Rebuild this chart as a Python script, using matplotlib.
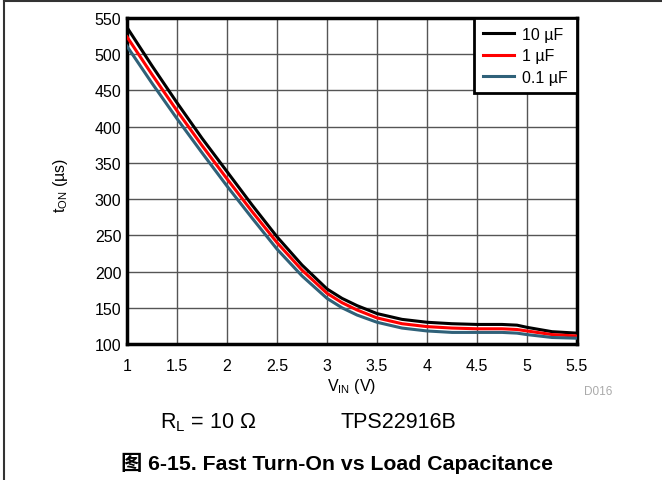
import matplotlib
matplotlib.use("Agg")
import matplotlib.pyplot as plt
from matplotlib.lines import Line2D

plt.rcParams['font.family'] = ['Liberation Sans', 'Noto Sans CJK SC', 'DejaVu Sans']
plt.rcParams['mathtext.fontset'] = 'custom'
plt.rcParams['mathtext.rm'] = 'Liberation Sans'
plt.rcParams['mathtext.it'] = 'Liberation Sans'

vin = [1.0, 1.25, 1.5, 1.75, 2.0, 2.25, 2.5, 2.75, 3.0, 3.15, 3.3, 3.5, 3.75, 4.0, 4.25, 4.5, 4.75, 4.9, 5.0, 5.25, 5.5]
t_10uF = [537, 484, 433, 384, 338, 292, 248, 209, 176, 163, 153, 142, 134, 130, 128, 127, 127, 126, 123, 117, 115]
t_1uF = [524, 472, 422, 374, 328, 283, 240, 202, 170, 157, 147, 136, 128, 124, 122, 121, 121, 120, 118, 113, 111]
t_01uF = [511, 460, 411, 364, 318, 274, 231, 194, 163, 150, 140, 130, 122, 118, 116, 116, 116, 115, 113, 109, 108]
labels = ['10 µF', '1 µF', '0.1 µF']
colors = ['#000000', '#ff0000', '#2f6179']
xticks = [1, 1.5, 2, 2.5, 3, 3.5, 4, 4.5, 5, 5.5]
yticks = [100, 150, 200, 250, 300, 350, 400, 450, 500, 550]

fig = plt.figure(figsize=(6.62, 4.81), dpi=100)
ax = fig.add_axes([127/662, 1-345/481, 450/662, 326/481])

for ys, c, lab in zip([t_10uF, t_1uF, t_01uF], colors, labels):
    ax.plot(vin, ys, color=c, lw=2.2, label=lab, zorder=3)

ax.set_xlim(1, 5.5)
ax.set_ylim(100, 550)
ax.set_xticks(xticks)
ax.set_xticklabels([f'{t:g}' for t in xticks])
ax.set_yticks(yticks)
ax.grid(True, color='#555555', lw=1.0)
ax.tick_params(length=0, labelsize=11.5)
ax.tick_params(axis='x', pad=10)
ax.tick_params(axis='y', pad=4)
for s in ax.spines.values():
    s.set_linewidth(2.5)
ax.set_xlabel('V$_{\\mathregular{IN}}$ (V)', fontsize=11.5, va='center')
ax.xaxis.set_label_coords((352-127)/450, (345-387)/326)
ax.set_ylabel('t$_{\\mathregular{ON}}$ (µs)', fontsize=11.5, va='center')
ax.yaxis.set_label_coords((60-127)/450, (345-185)/326)

leg = ax.legend(loc='upper right', fontsize=11.5, fancybox=False, framealpha=1,
                edgecolor='black', borderaxespad=0, handlelength=1.95,
                labelspacing=0.4, borderpad=0.55, handletextpad=0.55)
leg.get_frame().set_linewidth(2)

fig.text(584/662, 1-392/481, 'D016', color='#aaaaaa', fontsize=8.5, ha='left', va='center')
fig.text(160/662, 1-423/481, 'R$_{\\mathregular{L}}$ = 10 Ω', fontsize=15.5, ha='left', va='center')
fig.text(340/662, 1-422/481, 'TPS22916B', fontsize=15.5, ha='left', va='center')
fig.text(337/662, 1-463/481, '图 6-15. Fast Turn-On vs Load Capacitance', fontsize=15.3,
         fontweight='bold', ha='center', va='center')

fig.add_artist(Line2D([4/662, 4/662], [0, 1-2/481], color='#333333', lw=1.5))
fig.add_artist(Line2D([4/662, 1], [1-2/481, 1-2/481], color='#333333', lw=1.5))

fig.savefig('out.png', dpi=100)
